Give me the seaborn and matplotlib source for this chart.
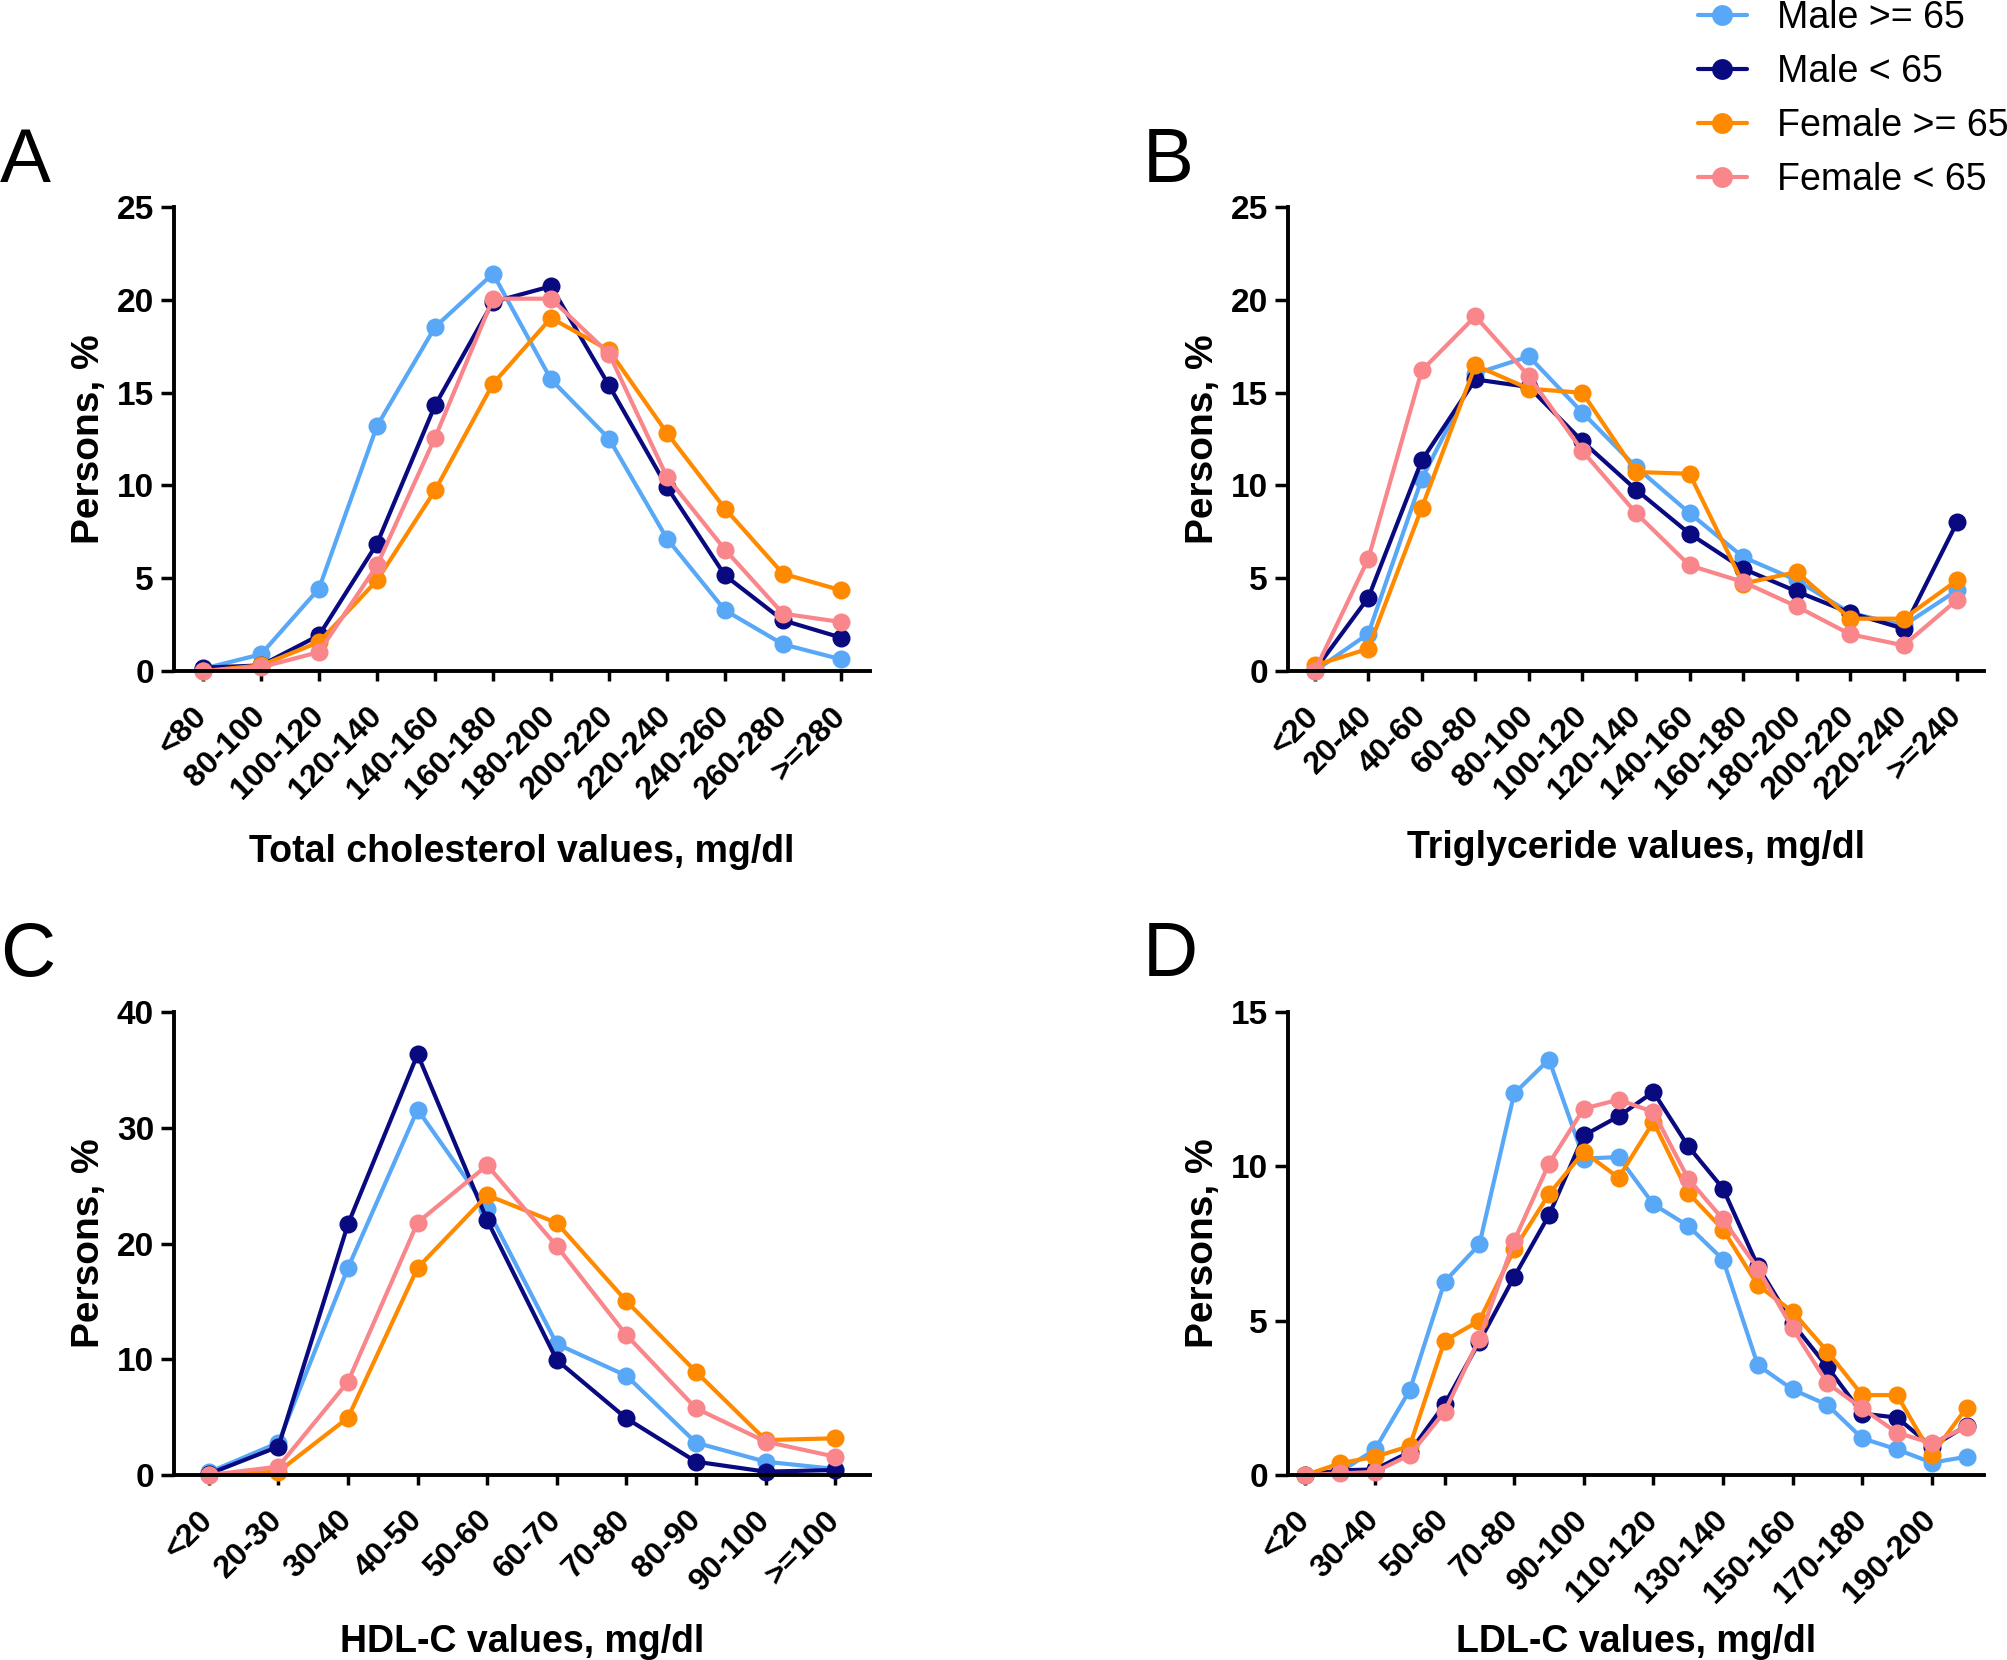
import numpy as np
import pandas as pd
import matplotlib
matplotlib.use("Agg")
import matplotlib.pyplot as plt
import seaborn as sns
from matplotlib.lines import Line2D

groups = ["Male >= 65", "Male < 65", "Female >= 65", "Female < 65"]
colors = ["#58A8F7", "#0A0A80", "#FF8A00", "#F9868A"]

# A - total cholesterol
tc_labels = ["<80", "80-100", "100-120", "120-140", "140-160", "160-180", "180-200",
             "200-220", "220-240", "240-260", "260-280", ">=280"]
tc_male_old = [0.12, 0.9, 4.44, 13.2, 18.53, 21.41, 15.71, 12.52, 7.13, 3.27, 1.44, 0.63]
tc_male_young = [0.18, 0.3, 1.92, 6.86, 14.31, 19.88, 20.73, 15.39, 9.91, 5.15, 2.73, 1.8]
tc_female_old = [0.0, 0.3, 1.56, 4.88, 9.73, 15.48, 19.02, 17.28, 12.82, 8.75, 5.24, 4.35]
tc_female_young = [0.0, 0.2, 1.02, 5.69, 12.57, 20.06, 20.06, 17.1, 10.45, 6.54, 3.09, 2.64]

# B - triglycerides
tg_labels = ["<20", "20-40", "40-60", "60-80", "80-100", "100-120", "120-140", "140-160",
             "160-180", "180-200", "200-220", "220-240", ">=240"]
tg_male_old = [0.0, 2.01, 10.36, 16.02, 16.95, 13.92, 10.99, 8.51, 6.14, 4.89, 3.13, 2.46, 4.35]
tg_male_young = [0.04, 3.95, 11.35, 15.71, 15.3, 12.37, 9.77, 7.4, 5.51, 4.29, 3.13, 2.28, 8.03]
tg_female_old = [0.3, 1.2, 8.8, 16.47, 15.21, 14.99, 10.72, 10.63, 4.71, 5.33, 2.82, 2.82, 4.89]
tg_female_young = [0.0, 6.05, 16.2, 19.11, 15.88, 11.85, 8.51, 5.69, 4.8, 3.48, 1.98, 1.38, 3.84]

# C - HDL-C
hdl_labels = ["<20", "20-30", "30-40", "40-50", "50-60", "60-70", "70-80", "80-90",
              "90-100", ">=100"]
hdl_male_old = [0.23, 2.79, 17.9, 31.57, 23.02, 11.31, 8.58, 2.79, 1.15, 0.52]
hdl_male_young = [0.09, 2.45, 21.67, 36.35, 22.01, 9.93, 4.89, 1.15, 0.29, 0.43]
hdl_female_old = [0.0, 0.29, 4.95, 17.9, 24.17, 21.78, 15.02, 8.92, 3.02, 3.17]
hdl_female_young = [0.0, 0.72, 8.06, 21.81, 26.76, 19.77, 12.09, 5.76, 2.88, 1.58]

# D - LDL-C
ldl_labels = ["<20", "20-30", "30-40", "40-50", "50-60", "60-70", "70-80", "80-90",
              "90-100", "100-110", "110-120", "120-130", "130-140", "140-150", "150-160",
              "160-170", "170-180", "180-190", "190-200", ">=200"]
ldl_male_old = [0.0, 0.1, 0.83, 2.75, 6.26, 7.47, 12.36, 13.46, 10.25, 10.3, 8.77, 8.07,
                6.98, 3.56, 2.77, 2.27, 1.19, 0.83, 0.4, 0.59]
ldl_male_young = [0.0, 0.15, 0.18, 0.75, 2.29, 4.32, 6.42, 8.42, 11.0, 11.62, 12.41, 10.65,
                  9.28, 6.77, 4.91, 3.5, 1.99, 1.86, 0.92, 1.6]
ldl_female_old = [0.0, 0.38, 0.59, 0.94, 4.35, 5.0, 7.31, 9.1, 10.47, 9.63, 11.44, 9.14,
                  7.95, 6.15, 5.29, 4.0, 2.59, 2.59, 0.65, 2.18]
ldl_female_young = [0.0, 0.05, 0.1, 0.65, 2.05, 4.42, 7.59, 10.09, 11.87, 12.16, 11.76, 9.6,
                    8.28, 6.69, 4.75, 2.97, 2.16, 1.37, 1.03, 1.56]

sns.set_style("ticks")
plt.rcParams["font.family"] = ["Liberation Sans", "DejaVu Sans"]
plt.rcParams["text.color"] = "black"
plt.rcParams["axes.edgecolor"] = "black"
plt.rcParams["xtick.color"] = "black"
plt.rcParams["ytick.color"] = "black"
plt.rcParams["xtick.labelcolor"] = "black"
plt.rcParams["ytick.labelcolor"] = "black"

W, H = 2008, 1660
fig = plt.figure(figsize=(W / 100, H / 100), dpi=100)


def px_axes(left, top, right, bottom):
    return fig.add_axes([left / W, 1 - bottom / H, (right - left) / W, (bottom - top) / H])


def panel(ax, labels, series, ymax, ystep, xlabel, label_drop, tick_every=1):
    rows = []
    for g, vals in zip(groups, series):
        for i, v in enumerate(vals):
            rows.append({"pos": i, "pct": v, "group": g})
    df = pd.DataFrame(rows)
    sns.lineplot(data=df, x="pos", y="pct", hue="group", hue_order=groups,
                 palette=colors, marker="o", markersize=13, markeredgewidth=0,
                 linewidth=3.0, errorbar=None, clip_on=False, legend=False, ax=ax)
    n = len(labels)
    ax.set_xlim(-0.5, n - 0.5)
    ax.set_ylim(0, ymax)
    yt = np.arange(0, ymax + 0.1, ystep)
    ax.set_yticks(yt)
    ax.set_yticklabels([str(int(t)) for t in yt], fontsize=24, fontweight="bold")
    ticks = [t for t in range(0, n, tick_every) if tick_every == 1 or t < n - 1]
    ax.set_xticks(ticks)
    ax.set_xticklabels([labels[t] for t in ticks], fontsize=23, fontweight="bold",
                       rotation=45, ha="right", va="center", rotation_mode="anchor")
    ax.tick_params(axis="x", length=10 * 0.72, width=2.5, pad=22)
    ax.tick_params(axis="y", length=13 * 0.72, width=2.5, pad=5)
    for s in ["top", "right"]:
        ax.spines[s].set_visible(False)
    for s in ["left", "bottom"]:
        ax.spines[s].set_linewidth(2.8)
    ax.set_xlabel("")
    ax.set_ylabel("")
    ax.annotate("Persons, %", xy=(0, 0.5), xycoords="axes fraction",
                xytext=(-75 * 0.72, 0), textcoords="offset points",
                rotation=90, ha="center", va="baseline", rotation_mode="anchor",
                fontsize=28, fontweight="bold")
    ax.annotate(xlabel, xy=(0.5, 0), xycoords="axes fraction",
                xytext=(0, -label_drop * 0.72), textcoords="offset points",
                ha="center", va="baseline", fontsize=27, fontweight="bold")


axA = px_axes(174, 207, 870, 671)
axB = px_axes(1288, 207, 1984, 671)
axC = px_axes(174, 1012, 870, 1475)
axD = px_axes(1288, 1012, 1984, 1475)

panel(axA, tc_labels, [tc_male_old, tc_male_young, tc_female_old, tc_female_young],
      25, 5, "Total cholesterol values, mg/dl", 191)
panel(axB, tg_labels, [tg_male_old, tg_male_young, tg_female_old, tg_female_young],
      25, 5, "Triglyceride values, mg/dl", 187)
panel(axC, hdl_labels, [hdl_male_old, hdl_male_young, hdl_female_old, hdl_female_young],
      40, 10, "HDL-C values, mg/dl", 177)
panel(axD, ldl_labels, [ldl_male_old, ldl_male_young, ldl_female_old, ldl_female_young],
      15, 5, "LDL-C values, mg/dl", 177, tick_every=2)

for letter, x, y in [("A", 0, 182), ("B", 1143, 182), ("C", 0, 976), ("D", 1143, 976)]:
    fig.text(x / W, 1 - y / H, letter, fontsize=55, ha="left", va="baseline")

handles = [Line2D([0], [0], color=c, lw=3.0, marker="o", markersize=15, markeredgewidth=0)
           for c in colors]
fig.legend(handles, groups, loc="upper left", bbox_to_anchor=(1698 / W, 1.0),
           frameon=False, fontsize=27, borderpad=0, borderaxespad=0,
           handlelength=1.3, handletextpad=0.8, labelspacing=0.48)

fig.savefig("out.png", dpi=100)
